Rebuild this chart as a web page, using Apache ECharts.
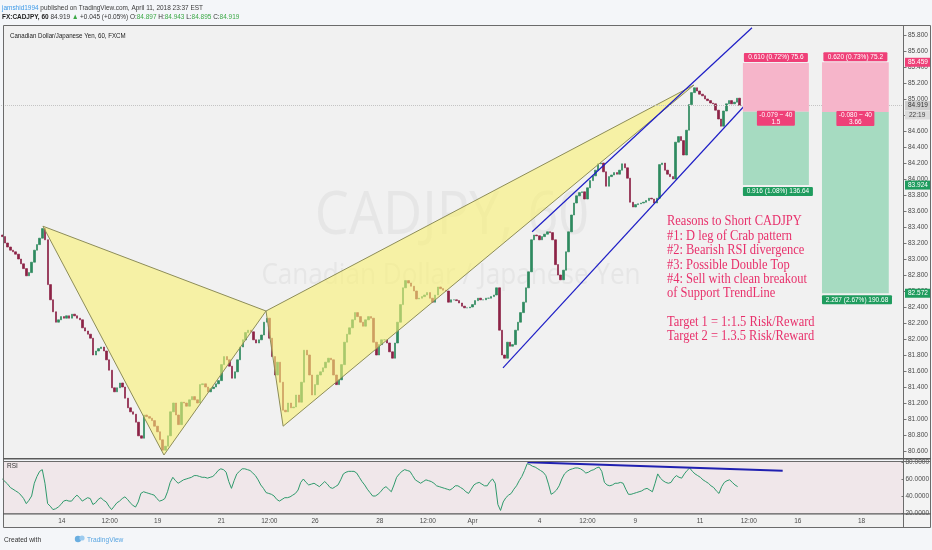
<!DOCTYPE html>
<html>
<head>
<meta charset="utf-8">
<script src="https://cdn.jsdelivr.net/npm/echarts@6/dist/echarts.min.js"></script>
<style>
html, body { margin: 0; padding: 0; background: #f4f6f9; }
#chart { width: 932px; height: 550px; }
</style>
</head>
<body>
<div id="chart"></div>
<script>
// CADJPY, 60 - closes, one value per 2 hours, slot 0 = Mar 12 ~02:00
const firstOpen = 83.30
const closes = [
  83.28, 83.20, 83.15, 83.11, 83.09, 83.06, 83.00, 82.94, 82.88, 82.79, 82.83,
  82.96, 83.11, 83.18, 83.26, 83.38, 83.24, 82.68, 82.49, 82.34, 82.21,
  82.24, 82.28, 82.26, 82.29, 82.26, 82.31, 82.29, 82.26, 82.24, 82.14,
  82.10, 82.06, 82.01, 81.80, 81.85, 81.88, 81.90, 81.85, 81.74, 81.61,
  81.39, 81.34, 81.39, 81.45, 81.40, 81.26, 81.14, 81.09, 81.06, 80.96,
  80.79, 80.76, 81.05, 81.03, 81.01, 80.98, 80.91, 80.84, 80.74, 80.61,
  80.66, 80.79, 81.09, 81.20, 81.05, 80.93, 81.21, 81.20, 81.16, 81.24,
  81.28, 81.24, 81.20, 81.43, 81.44, 81.40, 81.34, 81.38, 81.40, 81.44,
  81.48, 81.68, 81.78, 81.74, 81.66, 81.51, 81.59, 81.74, 81.90, 81.99,
  82.08, 82.11, 82.09, 81.99, 81.95, 81.99, 82.05, 82.21, 82.26, 82.01,
  81.78, 81.55, 81.71, 81.46, 81.11, 81.09, 81.20, 81.14, 81.15, 81.30,
  81.21, 81.46, 81.86, 81.80, 81.55, 81.30, 81.43, 81.55, 81.59, 81.64,
  81.71, 81.76, 81.74, 81.55, 81.43, 81.49, 81.68, 81.96, 82.06, 82.14,
  82.24, 82.33, 82.28, 82.21, 82.16, 82.24, 82.28, 82.26, 81.96, 81.80,
  81.93, 81.99, 81.99, 81.95, 81.84, 81.76, 81.95, 82.21, 82.43, 82.64,
  82.73, 82.70, 82.66, 82.60, 82.50, 82.51, 82.53, 82.55, 82.58, 82.51,
  82.46, 82.55, 82.65, 82.63, 82.61, 82.60, 82.46, 82.49, 82.49, 82.48,
  82.45, 82.41, 82.39, 82.39, 82.40, 82.43, 82.48, 82.51, 82.49, 82.49,
  82.51, 82.51, 82.53, 82.55, 82.64, 82.11, 81.80, 81.76, 81.96, 81.91,
  81.93, 82.11, 82.21, 82.33, 82.46, 82.64, 82.84, 83.24, 83.30, 83.29,
  83.24, 83.28, 83.31, 83.34, 83.33, 83.24, 82.93, 82.80, 82.74, 82.86,
  83.09, 83.34, 83.55, 83.70, 83.79, 83.83, 83.84, 83.75, 83.89, 83.98,
  84.04, 84.11, 84.19, 84.20, 84.09, 83.91, 84.03, 84.05, 84.08, 84.06,
  84.11, 84.19, 84.14, 84.01, 83.71, 83.65, 83.68, 83.69, 83.70, 83.71,
  83.73, 83.76, 83.75, 83.70, 83.76, 84.18, 84.20, 84.11, 84.06, 84.03,
  84.00, 84.46, 84.53, 84.48, 84.30, 84.61, 84.93, 85.08, 85.14, 85.10,
  85.06, 85.04, 85.00, 84.98, 84.95, 84.94, 84.86, 84.75, 84.66, 84.85,
  84.94, 84.98, 84.94, 84.96, 85.01, 84.92
]
const rsi = [
  60, 57, 54, 50, 48, 46, 44, 41, 37, 31, 35,
  40, 55, 63, 69, 71, 55, 31, 28, 24, 25,
  27, 30, 34, 35, 34, 34, 38, 41, 38, 34,
  36, 38, 37, 30, 32, 36, 38, 35, 33, 28,
  24, 28, 32, 34, 37, 39, 36, 32, 29, 27,
  33, 43, 45, 44, 43, 42, 41, 37, 34, 35,
  37, 45, 56, 62, 58, 55, 57, 59, 60, 61,
  62, 64, 64, 63, 62, 62, 61, 62, 63, 66,
  70, 72, 71, 68, 57, 49, 58, 66, 69, 72,
  72, 71, 70, 67, 64, 59, 53, 49, 44, 43,
  42, 40, 36, 34, 36, 38, 38, 39, 41, 43,
  47, 56, 60, 56, 53, 54, 55, 53, 51, 54,
  57, 54, 50, 49, 51, 53, 59, 66, 68, 69,
  69, 69, 67, 62, 57, 53, 48, 44, 40, 40,
  42, 45, 49, 51, 48, 45, 53, 62, 66, 69,
  71, 70, 69, 64, 59, 57, 55, 57, 59, 58,
  57, 55, 52, 51, 50, 49, 48, 47, 49, 52,
  52, 50, 48, 45, 43, 48, 53, 55, 56, 54,
  52, 52, 57, 60, 55, 30, 23, 33, 38, 41,
  43, 48, 52, 58, 63, 70, 78, 77, 75, 74,
  72, 70, 68, 64, 54, 42, 44, 47, 52, 60,
  66, 69, 71, 72, 73, 73, 72, 70, 67, 68,
  70, 71, 73, 74, 69, 56, 53, 52, 53, 55,
  55, 56, 55, 48, 42, 42, 43, 44, 45, 46,
  48, 49, 47, 45, 55, 66, 61, 58, 56, 55,
  56, 61, 64, 62, 61, 66, 70, 73, 69, 66,
  64, 62, 59, 57, 55, 52, 50, 46, 43, 51,
  56, 58, 59, 56, 53, 51
]

const tickSlots = [22.3, 40.3, 58.3, 82.2, 100.2, 117.4, 141.7, 159.7, 176.5, 201.6, 219.6, 237.6, 261.9, 280.2, 298.6, 322.5]
const tickLabels = ['14', '12:00', '19', '21', '12:00', '26', '28', '12:00', 'Apr', '4', '12:00', '9', '11', '12:00', '16', '18']
const priceTicks = [80.6, 80.8, 81.0, 81.2, 81.4, 81.6, 81.8, 82.0, 82.2, 82.4, 82.6, 82.8, 83.0, 83.2, 83.4, 83.6, 83.8, 84.0, 84.2, 84.4, 84.6, 84.8, 85.0, 85.2, 85.4, 85.6, 85.8]
const rsiTicks = [20, 40, 60, 80]

// crab pattern X, A, B, C, D
const crabSlots = [15.2, 60.5, 98.7, 105.1, 258.9]
const crabPrices = [83.41, 80.55, 82.35, 80.91, 85.175]
const channelLow = [[187.4, 81.64], [287.7, 85.275]]
const channelHigh = [[198.3, 83.34], [280.6, 85.89]]
const rsiTrend = [[197.1, 79.6], [292.9, 69.8]]

// two short position tools
const posLeft = [277.2, 306.8]
const posRight = [301.9, 331.8]
const posStop = [85.450, 85.459]
const posEntry = [84.840, 84.839]
const posTarget = [83.924, 82.572]
const posTopText = ['0.610 (0.72%) 75.6', '0.620 (0.73%) 75.2']
const posMidText = ['-0.079 ~ 40\n1.5', '-0.080 ~ 40\n3.66']
const posBottomText = ['0.916 (1.08%) 136.64', '2.267 (2.67%) 190.68']

const lastPrice = 84.919
const tagPrices = [85.459, 84.919, 83.924, 82.572]
const tagKinds = ['stop', 'last', 'target', 'target']

const noteLines = [
  'Reasons to Short CADJPY',
  '#1: D leg of Crab pattern',
  '#2: Bearish RSI divergence',
  '#3: Possible Double Top',
  '#4: Sell with clean breakout',
  'of Support TrendLine',
  '',
  'Target 1 = 1:1.5 Risk/Reward',
  'Target 2 = 1.3.5 Risk/Reward'
]

const UP = '#2e8a5f'
const DOWN = '#8c2346'
const PINK = '#ef4078'
const GREEN = '#1f9c5e'
const FONT = '"Liberation Sans", Arial, sans-serif'

const candleData = closes.map((c, i) => {
  const o = i ? closes[i - 1] : firstOpen
  return [i, o, c, Math.min(o, c), Math.max(o, c)]
})

const chart = echarts.init(document.getElementById('chart'))

function crabItem (params, api) {
  const p = crabSlots.map((s, k) => api.coord([s, crabPrices[k]]))
  const st = { fill: 'rgba(250, 242, 115, 0.6)', stroke: '#8d8d58', lineWidth: 1 }
  return {
    type: 'group',
    children: [
      { type: 'polygon', shape: { points: [p[0], p[1], p[2]] }, style: st },
      { type: 'polygon', shape: { points: [p[2], p[3], p[4]] }, style: st }
    ]
  }
}

function positionItem (params, api) {
  const k = params.dataIndex
  const tl = api.coord([posLeft[k], posStop[k]])
  const en = api.coord([posRight[k], posEntry[k]])
  const bt = api.coord([posRight[k], posTarget[k]])
  const x0 = tl[0]
  const x1 = en[0]
  const cx = (x0 + x1) / 2
  const font = '6.5px ' + FONT
  return {
    type: 'group',
    children: [
      { type: 'rect', shape: { x: x0, y: tl[1], width: x1 - x0, height: en[1] - tl[1] }, style: { fill: '#f6b5ca' } },
      { type: 'rect', shape: { x: x0, y: en[1], width: x1 - x0, height: bt[1] - en[1] }, style: { fill: '#a6dbc1' } },
      { type: 'rect', shape: { x: cx - 32, y: tl[1] - 10, width: 64, height: 9, r: 1 }, style: { fill: PINK } },
      { type: 'text', style: { text: posTopText[k], x: cx, y: tl[1] - 5.5, align: 'center', verticalAlign: 'middle', fill: '#fff', font: font } },
      { type: 'rect', shape: { x: cx - 19, y: en[1] - 1, width: 38, height: 15, r: 1 }, style: { fill: PINK } },
      { type: 'text', style: { text: posMidText[k], x: cx, y: en[1] + 6.5, align: 'center', verticalAlign: 'middle', lineHeight: 7, fill: '#fff', font: font } },
      { type: 'rect', shape: { x: x0, y: bt[1] + 2, width: 70, height: 9, r: 1 }, style: { fill: GREEN } },
      { type: 'text', style: { text: posBottomText[k], x: x0 + 35, y: bt[1] + 6.5, align: 'center', verticalAlign: 'middle', fill: '#fff', font: font } }
    ]
  }
}

function tagItem (params, api) {
  const k = params.dataIndex
  const pt = api.coord([337.5, tagPrices[k]])
  const kind = tagKinds[k]
  const bg = kind === 'stop' ? PINK : kind === 'target' ? GREEN : '#cfcfcf'
  const fg = kind === 'last' ? '#333' : '#fff'
  const font = '6.5px ' + FONT
  const children = [
    { type: 'rect', shape: { x: pt[0] + 1, y: pt[1] - 4.5, width: 26, height: 9 }, style: { fill: bg } },
    { type: 'text', style: { text: tagPrices[k].toFixed(3), x: pt[0] + 4, y: pt[1], verticalAlign: 'middle', fill: fg, font: font } }
  ]
  if (kind === 'last') {
    children.push({ type: 'rect', shape: { x: pt[0] + 1, y: pt[1] + 5, width: 26, height: 9 }, style: { fill: '#dcdcdc' } })
    children.push({ type: 'text', style: { text: '22:19', x: pt[0] + 5, y: pt[1] + 9.5, verticalAlign: 'middle', fill: '#444', font: font } })
  }
  return { type: 'group', children: children }
}

const graphics = [
  // backgrounds
  { type: 'rect', z: -10, shape: { x: 3, y: 25, width: 900, height: 434 }, style: { fill: '#f1f1f1' } },
  { type: 'rect', z: -10, shape: { x: 3, y: 461, width: 900, height: 53 }, style: { fill: '#f0e7ea' } },
  { type: 'rect', z: -10, shape: { x: 3, y: 514, width: 900, height: 14 }, style: { fill: '#f1f1f1' } },
  { type: 'rect', z: -10, shape: { x: 903, y: 25, width: 28, height: 503 }, style: { fill: '#f3f3f3' } },
  // watermark
  { type: 'text', z: -5, x: 452, y: 217, scaleX: 0.9, style: { text: 'CADJPY, 60', x: 0, y: 0, align: 'center', verticalAlign: 'middle', font: '60px "Open Sans", sans-serif', fill: '#e6e6e6' } },
  { type: 'text', z: -5, x: 451, y: 276, scaleX: 0.9, style: { text: 'Canadian Dollar / Japanese Yen', x: 0, y: 0, align: 'center', verticalAlign: 'middle', font: '29px "Open Sans", sans-serif', fill: '#e6e6e6' } },
  // header
  {
    type: 'text', z: 50, x: 2, y: 8, scaleX: 0.86,
    style: {
      text: '{u|jamshid1994} published on TradingView.com, April 11, 2018 23:37 EST',
      x: 0, y: 0, verticalAlign: 'middle', font: '7.5px ' + FONT, fill: '#3a3a3a',
      rich: { u: { fill: '#3d9ae8', font: '7.5px ' + FONT } }
    }
  },
  {
    type: 'text', z: 50, x: 2, y: 17, scaleX: 0.86,
    style: {
      text: '{b|FX:CADJPY, 60} 84.919 {g|\u25B2} +0.045 (+0.05%) O:{g|84.897} H:{g|84.943} L:{g|84.895} C:{g|84.919}',
      x: 0, y: 0, verticalAlign: 'middle', font: '7.5px ' + FONT, fill: '#333',
      rich: {
        b: { font: 'bold 7.5px ' + FONT, fill: '#222' },
        g: { font: '7.5px ' + FONT, fill: '#3aa845' }
      }
    }
  },
  { type: 'text', z: 50, x: 10, y: 36, scaleX: 0.82, style: { text: 'Canadian Dollar/Japanese Yen, 60, FXCM', x: 0, y: 0, verticalAlign: 'middle', font: '7.5px ' + FONT, fill: '#222' } },
  { type: 'text', z: 50, x: 7, y: 466.5, style: { text: 'RSI', x: 0, y: 0, verticalAlign: 'middle', font: '6.5px ' + FONT, fill: '#333' } },
  // note
  {
    type: 'text', z: 50, x: 667, y: 214.5, scaleX: 0.86,
    style: { text: noteLines.join('\n'), x: 0, y: 0, verticalAlign: 'top', lineHeight: 14.35, font: '14.5px "Liberation Serif", "Times New Roman", serif', fill: '#e8306b' }
  },
  // frame
  { type: 'rect', z: 60, shape: { x: 3.5, y: 25.5, width: 927, height: 502 }, style: { fill: null, stroke: '#6b6b6b', lineWidth: 1 } },
  { type: 'line', z: 60, shape: { x1: 903.5, y1: 25, x2: 903.5, y2: 528 }, style: { stroke: '#6b6b6b', lineWidth: 1 } },
  { type: 'line', z: 60, shape: { x1: 3, y1: 458.8, x2: 931, y2: 458.8 }, style: { stroke: '#5a5a5a', lineWidth: 1.5 } },
  { type: 'line', z: 60, shape: { x1: 3, y1: 461.5, x2: 931, y2: 461.5 }, style: { stroke: '#6b6b6b', lineWidth: 1 } },
  { type: 'line', z: 60, shape: { x1: 3, y1: 513.8, x2: 931, y2: 513.8 }, style: { stroke: '#5a5a5a', lineWidth: 1.2 } },
  // footer
  { type: 'text', z: 50, x: 4, y: 540, scaleX: 0.88, style: { text: 'Created with', x: 0, y: 0, verticalAlign: 'middle', font: '7.5px ' + FONT, fill: '#333' } },
  { type: 'circle', z: 50, shape: { cx: 78, cy: 539, r: 3.2 }, style: { fill: '#6aaee0' } },
  { type: 'circle', z: 50, shape: { cx: 82, cy: 538, r: 2.6 }, style: { fill: '#9ccbef' } },
  { type: 'text', z: 50, x: 87, y: 540, scaleX: 0.88, style: { text: 'TradingView', x: 0, y: 0, verticalAlign: 'middle', font: '7.5px ' + FONT, fill: '#5aa6e2' } }
]

chart.setOption({
  animation: false,
  backgroundColor: '#f4f6f9',
  grid: [
    { left: 1, right: 28, top: 25, height: 434 },
    { left: 1, right: 28, top: 462, height: 51 }
  ],
  xAxis: [
    { type: 'value', gridIndex: 0, min: -0.5, max: 337.5, show: false, axisLine: { onZero: false } },
    {
      type: 'value', gridIndex: 1, min: -0.5, max: 337.5,
      axisLine: { show: false, onZero: false }, axisTick: { show: false }, splitLine: { show: false },
      axisLabel: {
        customValues: tickSlots,
        margin: 5,
        fontSize: 6.5,
        fontFamily: 'Liberation Sans',
        color: '#4a4a4a',
        formatter: v => {
          const k = tickSlots.findIndex(s => Math.abs(s - v) < 1e-6)
          return k < 0 ? '' : tickLabels[k]
        }
      }
    }
  ],
  yAxis: [
    {
      type: 'value', gridIndex: 0, position: 'right', min: 80.5, max: 85.925,
      axisLine: { show: false, onZero: false }, splitLine: { show: false },
      axisTick: { show: true, customValues: priceTicks, length: 2.5, lineStyle: { color: '#777' } },
      axisLabel: { customValues: priceTicks, margin: 4, fontSize: 6.5, fontFamily: 'Liberation Sans', color: '#4a4a4a', formatter: v => v.toFixed(3) }
    },
    {
      type: 'value', gridIndex: 1, position: 'right', min: 20, max: 80,
      axisLine: { show: false, onZero: false }, splitLine: { show: false },
      axisTick: { show: true, customValues: rsiTicks, length: 2.5, lineStyle: { color: '#777' } },
      axisLabel: { customValues: rsiTicks, margin: 4, fontSize: 6.5, fontFamily: 'Liberation Sans', color: '#4a4a4a', formatter: v => v.toFixed(4) }
    }
  ],
  graphic: graphics,
  series: [
    {
      type: 'candlestick',
      xAxisIndex: 0,
      yAxisIndex: 0,
      z: 3,
      barWidth: 2,
      data: candleData,
      itemStyle: { color: UP, color0: DOWN, borderColor: UP, borderColor0: DOWN, borderWidth: 0.7 },
      markLine: {
        silent: true,
        symbol: 'none',
        label: { show: false },
        lineStyle: { color: '#c4c4c4', type: 'dotted', width: 1 },
        data: [{ yAxis: lastPrice }]
      }
    },
    { type: 'custom', xAxisIndex: 0, yAxisIndex: 0, z: 4, silent: true, data: [[0, 83]], renderItem: crabItem },
    { type: 'line', xAxisIndex: 0, yAxisIndex: 0, z: 5, silent: true, showSymbol: false, data: channelLow, lineStyle: { color: '#1e1ec6', width: 1.2 } },
    { type: 'line', xAxisIndex: 0, yAxisIndex: 0, z: 5, silent: true, showSymbol: false, data: channelHigh, lineStyle: { color: '#1e1ec6', width: 1.2 } },
    { type: 'custom', xAxisIndex: 0, yAxisIndex: 0, z: 6, silent: true, clip: false, data: posLeft.map((v, k) => [v, posEntry[k]]), renderItem: positionItem },
    { type: 'custom', xAxisIndex: 0, yAxisIndex: 0, z: 7, silent: true, clip: false, data: tagPrices.map(p => [337.5, p]), renderItem: tagItem },
    { type: 'line', xAxisIndex: 1, yAxisIndex: 1, z: 3, silent: true, showSymbol: false, data: rsi.map((v, i) => [i, v]), lineStyle: { color: '#2f9a6c', width: 1 } },
    { type: 'line', xAxisIndex: 1, yAxisIndex: 1, z: 4, silent: true, showSymbol: false, data: rsiTrend, lineStyle: { color: '#2020b0', width: 2 } }
  ]
})
</script>
</body>
</html>
